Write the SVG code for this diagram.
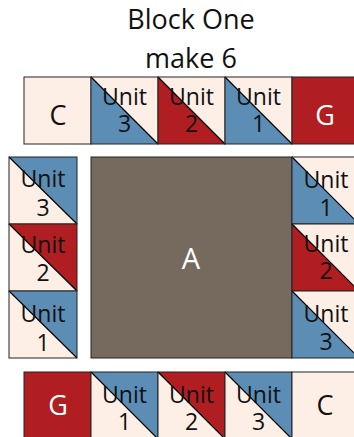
<svg xmlns="http://www.w3.org/2000/svg" width="354" height="437" viewBox="0 0 354 437">
<style>
.cr{fill:#FDEFE5}
.bl{fill:#5B8DB5}
.rd{fill:#B11E22}
.cell{fill:none;stroke:#222;stroke-width:1}
.dg{stroke:#000;stroke-width:1.2}
text{font-family:"Open Sans","Liberation Sans",sans-serif;text-anchor:middle;fill:#111}
.u{font-size:23px}
.big{font-size:27px}
.ttl{font-size:27px}
.a{font-size:29px}
.w{fill:#fff}
</style>
<rect width="354" height="437" fill="#fff"/>
<g id="title">
<text class="ttl" x="191" y="29">Block One</text>
<text class="ttl" x="191" y="68">make 6</text>
</g>
<!-- top row -->
<g id="top-c"><rect class="cr" x="24" y="77" width="67" height="67"/><rect class="cell" x="24" y="77" width="67" height="67"/><text class="big" x="58" y="125">C</text></g>
<g id="top-u3"><rect class="cr" x="91" y="77" width="67" height="67"/><polygon class="bl" points="91,77 158,144 91,144"/><line class="dg" x1="91" y1="77" x2="158" y2="144"/><rect class="cell" x="91" y="77" width="67" height="67"/><text class="u" x="124.5" y="105">Unit</text><text class="u" x="124.5" y="132">3</text></g>
<g id="top-u2"><rect class="cr" x="158" y="77" width="67" height="67"/><polygon class="rd" points="158,77 225,144 158,144"/><line class="dg" x1="158" y1="77" x2="225" y2="144"/><rect class="cell" x="158" y="77" width="67" height="67"/><text class="u" x="191.5" y="105">Unit</text><text class="u" x="191.5" y="132">2</text></g>
<g id="top-u1"><rect class="cr" x="225" y="77" width="67" height="67"/><polygon class="bl" points="225,77 292,144 225,144"/><line class="dg" x1="225" y1="77" x2="292" y2="144"/><rect class="cell" x="225" y="77" width="67" height="67"/><text class="u" x="258.5" y="105">Unit</text><text class="u" x="258.5" y="132">1</text></g>
<g id="top-g"><rect class="rd" x="292" y="77" width="67" height="67"/><rect class="cell" x="292" y="77" width="67" height="67"/><text class="big w" x="325" y="125">G</text></g>
<!-- left column -->
<g id="left-u3"><rect class="cr" x="9" y="157" width="68" height="67"/><polygon class="bl" points="9,157 77,157 77,224"/><line class="dg" x1="9" y1="157" x2="77" y2="224"/><rect class="cell" x="9" y="157" width="68" height="67"/><text class="u" x="43" y="187">Unit</text><text class="u" x="43" y="216">3</text></g>
<g id="left-u2"><rect class="cr" x="9" y="224" width="68" height="67"/><polygon class="rd" points="9,224 77,224 77,291"/><line class="dg" x1="9" y1="224" x2="77" y2="291"/><rect class="cell" x="9" y="224" width="68" height="67"/><text class="u" x="43" y="253">Unit</text><text class="u" x="43" y="281">2</text></g>
<g id="left-u1"><rect class="cr" x="9" y="291" width="68" height="67"/><polygon class="bl" points="9,291 77,291 77,358"/><line class="dg" x1="9" y1="291" x2="77" y2="358"/><rect class="cell" x="9" y="291" width="68" height="67"/><text class="u" x="43" y="322">Unit</text><text class="u" x="43" y="351">1</text></g>
<!-- center -->
<g id="center-a"><rect x="91" y="157" width="201" height="201" fill="#766A5F" stroke="#222" stroke-width="1"/><text class="a w" x="191" y="269">A</text></g>
<!-- right column -->
<g id="right-u1"><rect class="cr" x="292" y="157" width="67" height="67"/><polygon class="bl" points="292,157 359,224 292,224"/><line class="dg" x1="292" y1="157" x2="359" y2="224"/><rect class="cell" x="292" y="157" width="67" height="67"/><text class="u" x="326" y="188">Unit</text><text class="u" x="326" y="216">1</text></g>
<g id="right-u2"><rect class="cr" x="292" y="224" width="67" height="67"/><polygon class="rd" points="292,224 359,291 292,291"/><line class="dg" x1="292" y1="224" x2="359" y2="291"/><rect class="cell" x="292" y="224" width="67" height="67"/><text class="u" x="326" y="252">Unit</text><text class="u" x="326" y="279">2</text></g>
<g id="right-u3"><rect class="cr" x="292" y="291" width="67" height="67"/><polygon class="bl" points="292,291 359,358 292,358"/><line class="dg" x1="292" y1="291" x2="359" y2="358"/><rect class="cell" x="292" y="291" width="67" height="67"/><text class="u" x="326" y="322">Unit</text><text class="u" x="326" y="350">3</text></g>
<!-- bottom row -->
<g id="bot-g"><rect class="rd" x="24" y="372" width="67" height="67"/><rect class="cell" x="24" y="372" width="67" height="67"/><text class="big w" x="58" y="415">G</text></g>
<g id="bot-u1"><rect class="cr" x="91" y="372" width="67" height="67"/><polygon class="bl" points="91,372 158,372 158,439"/><line class="dg" x1="91" y1="372" x2="158" y2="439"/><rect class="cell" x="91" y="372" width="67" height="67"/><text class="u" x="124.5" y="403">Unit</text><text class="u" x="124.5" y="430">1</text></g>
<g id="bot-u2"><rect class="cr" x="158" y="372" width="67" height="67"/><polygon class="rd" points="158,372 225,372 225,439"/><line class="dg" x1="158" y1="372" x2="225" y2="439"/><rect class="cell" x="158" y="372" width="67" height="67"/><text class="u" x="191.5" y="403">Unit</text><text class="u" x="191.5" y="430">2</text></g>
<g id="bot-u3"><rect class="cr" x="225" y="372" width="67" height="67"/><polygon class="bl" points="225,372 292,372 292,439"/><line class="dg" x1="225" y1="372" x2="292" y2="439"/><rect class="cell" x="225" y="372" width="67" height="67"/><text class="u" x="258.5" y="403">Unit</text><text class="u" x="258.5" y="430">3</text></g>
<g id="bot-c"><rect class="cr" x="292" y="372" width="67" height="67"/><rect class="cell" x="292" y="372" width="67" height="67"/><text class="big" x="325" y="415">C</text></g>
<g id="connectors"></g>
</svg>
